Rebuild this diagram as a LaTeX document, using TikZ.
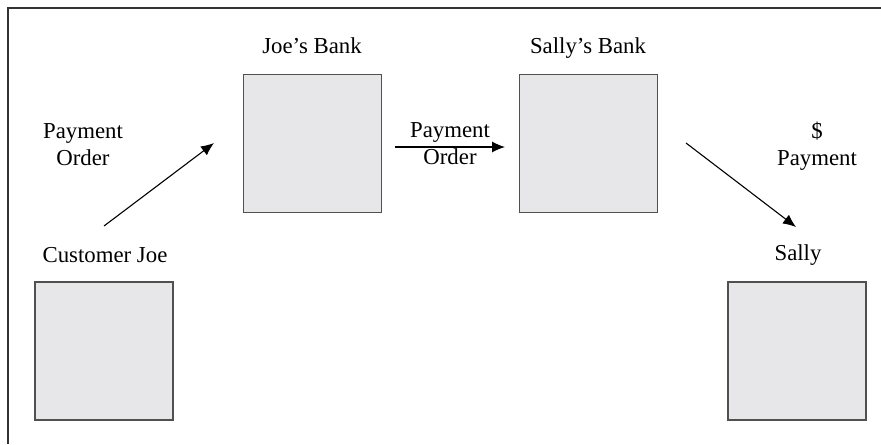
\documentclass[tikz,border=0pt]{standalone}
\usepackage{fontspec}
\setmainfont{Liberation Serif}
\usetikzlibrary{arrows.meta}
\definecolor{boxfill}{HTML}{E7E7E9}
\definecolor{boxline}{HTML}{505050}
\tikzset{
  acct/.style={draw=boxline, fill=boxfill, line width=0.9pt, minimum width=69pt, minimum height=69pt, inner sep=0pt},
  lbl/.style={font=\fontsize{11.4}{13.5}\selectfont, inner sep=0pt, anchor=base, align=center},
  flow/.style={line width=0.55pt, -{Latex[length=6.5pt,width=5.5pt]}}
}
\begin{document}
\begin{tikzpicture}[x=0.5pt, y=-0.5pt]
\useasboundingbox (0,0) rectangle (881,444);
% partial frame (top and left edges visible)
\draw[line width=1pt, black!80] (8,444) -- (8,8) -- (881,8);
% boxes
\node[acct] (cj) at (104,351) {};
\node[acct] (jb) at (312.5,143.5) {};
\node[acct] (sb) at (588.5,143.5) {};
\node[acct] (sa) at (797,351) {};
% titles
\node[lbl] (cjt) at (105,262) {Customer Joe};
\node[lbl] (jbt) at (312,54) {Joe’s Bank};
\node[lbl] (sbt) at (588,54) {Sally’s Bank};
\node[lbl] (sat) at (798,260) {Sally};
% flow labels (anchor base = last line)
\node[lbl] (l1) at (83,165) {Payment\\Order};
\node[lbl] (l2) at (450,164) {Payment\\Order};
\node[lbl] (l3) at (817,165) {\$\\Payment};
% arrow ends
\coordinate (a1s) at (104,226);
\coordinate (a1e) at (214,143);
\coordinate (a2s) at (395,147);
\coordinate (a2e) at (505,147);
\coordinate (a3s) at (686,143);
\coordinate (a3e) at (796,227);
\draw[flow] (a1s) -- (a1e);
\draw[flow] (a2s) -- (a2e);
\draw[flow] (a3s) -- (a3e);
\end{tikzpicture}
\end{document}
